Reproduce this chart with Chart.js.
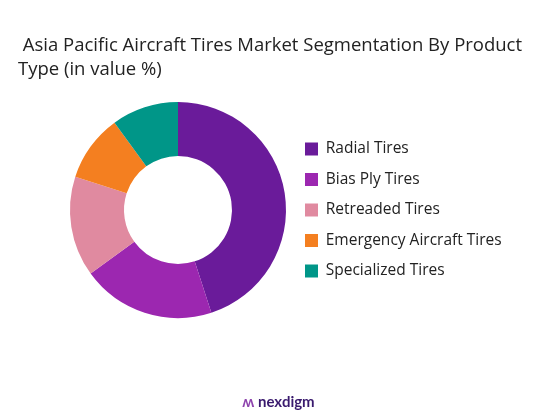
<!DOCTYPE html>
<html><head><meta charset="utf-8">
<script src="https://cdn.jsdelivr.net/npm/chart.js@4"></script>
<style>
body{margin:0;background:#fff;font-family:"Open Sans",sans-serif}
#wrap{position:relative;width:557px;height:416px}
#title{position:absolute;left:18px;top:32px;font-family:"Open Sans",sans-serif;font-size:18.5px;line-height:24px;color:#222;white-space:pre}
#logo{position:absolute;left:0;width:557px;top:392px;text-align:center;font-family:Lato,sans-serif;font-size:15px;color:#3a1a6e;font-weight:bold}
#logo span{color:#8e44ad}
</style></head><body>
<div id="wrap"><canvas id="c" width="557" height="416"></canvas>
<div id="title"> Asia Pacific Aircraft Tires Market Segmentation By Product
Type (in value %)</div>
<div id="logo"><span>ʍ</span> nexdigm</div></div>
<script>
const categories=["Radial Tires","Bias Ply Tires","Retreaded Tires","Emergency Aircraft Tires","Specialized Tires"];
const values=[45,20,15,10,10];
const colors=["#6A1B9A","#9C27B0","#E08AA0","#F47F20","#009688"];
new Chart(document.getElementById('c'),{
type:'doughnut',
data:{labels:categories,datasets:[{data:values,backgroundColor:colors,borderWidth:0}]},
options:{responsive:false,animation:false,cutout:'50%',
layout:{padding:{left:66,right:0,top:102,bottom:98}},
plugins:{
legend:{position:'right',labels:{boxWidth:13,boxHeight:13,padding:15,color:'#222',font:{family:'Open Sans',size:15.5}}},
tooltip:{enabled:false}}},
plugins:[{id:'fixw',afterInit(ch){const l=ch.legend;const f=l.fit.bind(l);l.fit=function(){f();this.width=267;};}}]
});
</script></body></html>
